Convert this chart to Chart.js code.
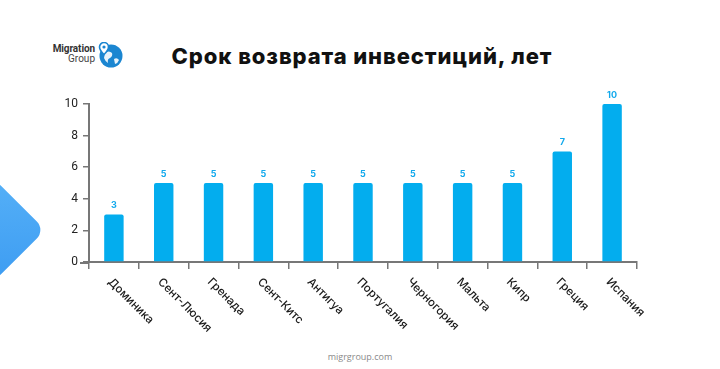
<!DOCTYPE html>
<html>
<head>
<meta charset="utf-8">
<script src="https://cdn.jsdelivr.net/npm/chart.js@4.4.1/dist/chart.umd.min.js"></script>
<style>
  html, body { margin: 0; padding: 0; background: #fff; width: 720px; height: 369px; overflow: hidden; }
  #wrap { position: relative; width: 720px; height: 369px; }
  canvas { position: absolute; left: 0; top: 0; }
  #title { position: absolute; left: 0; width: 720px; top: 43px; line-height: 26px; text-align: center; font-family: Inter, sans-serif; font-weight: 800; font-size: 22px; color: #111; letter-spacing: 0.9px; padding-left: 2px; }
  #footer { position: absolute; left: 0; width: 720px; top: 350px; text-align: center; font-family: "Open Sans", sans-serif; font-size: 9px; color: #8a8a8a; }
  #deco { position: absolute; left: -44px; top: 193px; width: 74px; height: 74px; background: linear-gradient(135deg, #55b0f7, #3d9cf2); border-radius: 12px; transform: rotate(45deg); }
  .logo { position: absolute; left: 30px; width: 65px; text-align: right; font-family: Roboto, sans-serif; font-size: 10px; line-height: 10px; }
  #logo1 { top: 44px; font-weight: 700; color: #333; letter-spacing: -0.1px; }
  #logo2 { top: 54px; font-weight: 400; color: #444; }
  #globe { position: absolute; left: 98px; top: 42px; }
</style>
</head>
<body>
<div id="wrap">
  <div id="deco"></div>
  <div id="logo1" class="logo">Migration</div>
  <div id="logo2" class="logo">Group</div>
  <svg id="globe" width="30" height="30" viewBox="0 0 30 30">
    <circle cx="13" cy="14" r="11.5" fill="#1b86d1"/>
    <path d="M7 11 q4 -3 7 0 q1 3 -2 5 q-3 1 -2 5 q-3 -2 -4 -5 z" fill="#fff" opacity="0.9"/>
    <path d="M16 17 q3 -2 5 1 q-1 3 -4 4 z" fill="#fff" opacity="0.9"/>
    <path d="M6 0.5 a4.5 4.5 0 0 1 4.5 4.5 c0 3 -4.5 7.5 -4.5 7.5 c0 0 -4.5 -4.5 -4.5 -7.5 a4.5 4.5 0 0 1 4.5 -4.5 z" fill="#fff" stroke="#1b86d1" stroke-width="1.6"/>
    <circle cx="6" cy="5" r="1.6" fill="#1b86d1"/>
  </svg>
  <div id="title">Срок возврата инвестиций, лет</div>
  <div id="footer">migrgroup.com</div>
  <canvas id="c" width="720" height="369"></canvas>
</div>
<script>
const categories = ["Доминика", "Сент-Люсия", "Гренада", "Сент-Китс", "Антигуа", "Португалия", "Черногория", "Мальта", "Кипр", "Греция", "Испания"];
const paybackYears = [3, 5, 5, 5, 5, 5, 5, 5, 5, 7, 10];
const yTicks = [0, 2, 4, 6, 8, 10];

const BAR = '#03adee';
const AXIS = '#777777';

const valueLabels = {
  id: 'valueLabels',
  afterDatasetsDraw(chart) {
    const ctx = chart.ctx;
    const meta = chart.getDatasetMeta(0);
    ctx.save();
    ctx.font = '700 9px Inter, sans-serif';
    ctx.fillStyle = '#12a9ec';
    ctx.textAlign = 'center';
    ctx.textBaseline = 'middle';
    meta.data.forEach((bar, i) => {
      ctx.fillText(String(chart.data.datasets[0].data[i]), bar.x, bar.y - 9);
    });
    ctx.restore();
  }
};

const rotatedLabels = {
  id: 'rotatedLabels',
  afterDraw(chart) {
    const ctx = chart.ctx;
    const xs = chart.scales.x;
    ctx.save();
    ctx.strokeStyle = AXIS;
    ctx.lineWidth = 2;
    ctx.beginPath();
    ctx.moveTo(xs.left - 9, xs.top + 1);
    ctx.lineTo(xs.left, xs.top + 1);
    ctx.stroke();
    ctx.font = '500 11.5px Inter, sans-serif';
    ctx.fillStyle = '#1a1a1a';
    ctx.textAlign = 'left';
    ctx.textBaseline = 'middle';
    chart.data.labels.forEach((lab, i) => {
      const x = xs.getPixelForValue(i);
      ctx.save();
      ctx.translate(x - 4, 280);
      ctx.rotate(Math.PI / 4);
      ctx.fillText(lab, 0, 0);
      ctx.restore();
    });
    ctx.restore();
  }
};

new Chart(document.getElementById('c'), {
  type: 'bar',
  data: {
    labels: categories,
    datasets: [{
      data: paybackYears,
      backgroundColor: BAR,
      borderRadius: 2,
      borderSkipped: 'bottom',
      categoryPercentage: 1,
      barPercentage: 0.39
    }]
  },
  options: {
    responsive: false,
    animation: false,
    events: [],
    layout: { padding: { left: 40, right: 83, top: 104, bottom: 100 } },
    plugins: { legend: { display: false }, tooltip: { enabled: false } },
    scales: {
      x: {
        border: { display: true, color: AXIS, width: 2 },
        grid: { display: true, drawOnChartArea: false, drawTicks: true, tickLength: 7, color: AXIS, lineWidth: 1.5 },
        ticks: { display: false }
      },
      y: {
        min: 0, max: 10,
        afterBuildTicks(scale) { scale.ticks = yTicks.map(v => ({ value: v })); },
        afterFit(scale) { scale.width = 49; },
        border: { display: true, color: AXIS, width: 2 },
        grid: { display: true, drawOnChartArea: false, drawTicks: true, tickLength: 6, color: AXIS, lineWidth: 1.5 },
        ticks: { color: '#222', font: { family: 'Roboto, sans-serif', size: 12 }, padding: 5 }
      }
    }
  },
  plugins: [valueLabels, rotatedLabels]
});
</script>
</body>
</html>
